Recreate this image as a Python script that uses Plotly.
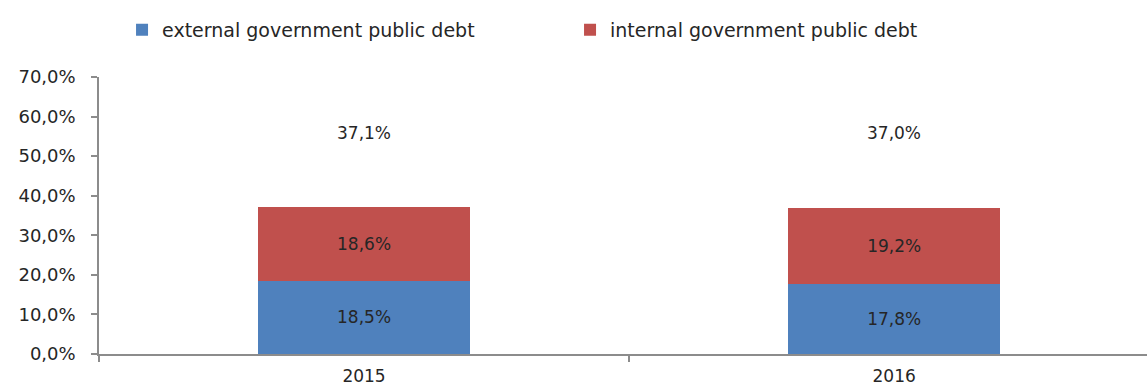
import plotly.graph_objects as go

years = ["2015", "2016"]
external = [18.5, 17.8]
internal = [18.6, 19.2]
totals = [37.1, 37.0]
total_label_y = [55.8, 55.8]

def fmt(v):
    return f"{v:.1f}%".replace(".", ",")

FONT = "DejaVu Sans"
TXT = "#262626"
AX = "#8c8c8c"

fig = go.Figure()
fig.add_trace(go.Bar(
    x=years, y=external, name="external government public debt",
    marker=dict(color="#4F81BD", line=dict(width=0)),
    text=[fmt(v) for v in external], textposition="inside",
    insidetextanchor="middle", textfont=dict(family=FONT, size=17, color=TXT),
    width=0.4,
))
fig.add_trace(go.Bar(
    x=years, y=internal, name="internal government public debt",
    marker=dict(color="#C0504D", line=dict(width=0)),
    text=[fmt(v) for v in internal], textposition="inside",
    insidetextanchor="middle", textfont=dict(family=FONT, size=17, color=TXT),
    width=0.4,
))
for i, (t, ty) in enumerate(zip(totals, total_label_y)):
    fig.add_annotation(x=i, y=ty, xref="x", yref="y", text=fmt(t), showarrow=False,
                       font=dict(family=FONT, size=17, color=TXT))

fig.update_layout(
    barmode="stack",
    width=1147, height=386,
    margin=dict(l=99, r=0, t=77, b=32),
    paper_bgcolor="white", plot_bgcolor="white",
    font=dict(family=FONT, size=17, color=TXT),
    legend=dict(orientation="h", x=0.1064, xref="container", xanchor="left",
                y=0.972, yref="container",
                yanchor="top", entrywidth=403, entrywidthmode="pixels",
                font=dict(family=FONT, size=19, color=TXT), traceorder="normal",
                itemwidth=30),
    xaxis=dict(type="category", range=[-0.5, 1.477], showline=True, linecolor=AX,
               linewidth=1.5, ticks="outside", tickson="boundaries", ticklen=6,
               tickcolor=AX, tickwidth=1.5, showgrid=False, ticklabelstandoff=6,
               tickfont=dict(family=FONT, size=17, color=TXT)),
    yaxis=dict(range=[0, 70], showline=True, linecolor=AX, linewidth=1.5,
               ticks="outside", ticklen=6, tickcolor=AX, tickwidth=1.5, showgrid=False,
               zeroline=False, tickvals=[0, 10, 20, 30, 40, 50, 60, 70],
               ticktext=[fmt(v) for v in [0, 10, 20, 30, 40, 50, 60, 70]],
               ticklabelstandoff=12,
               tickfont=dict(family=FONT, size=18, color=TXT)),
    showlegend=True,
)
fig.write_html("out.html")
